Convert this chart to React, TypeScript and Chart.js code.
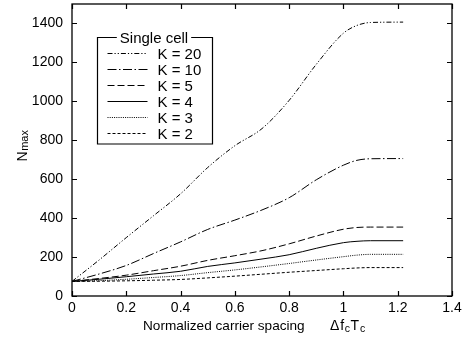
import React, { useEffect, useRef } from "react";
import { Chart, registerables } from "chart.js";

Chart.register(...registerables);

// ---- data ----
const xValues = [0, 0.1, 0.2, 0.3, 0.4, 0.5, 0.6, 0.7, 0.8, 0.9, 1.0, 1.05, 1.1, 1.22];
const k20 = [75, 185, 300, 412, 525, 660, 772, 860, 1005, 1190, 1350, 1390, 1405, 1407];
const k10 = [75, 113, 157, 218, 278, 342, 390, 442, 505, 597, 672, 697, 705, 706];
const k5 = [75, 90, 107, 130, 153, 183, 207, 233, 268, 308, 343, 352, 354, 354];
const k4 = [75, 86, 99, 113, 127, 152, 170, 190, 212, 245, 274, 281, 284, 284];
const k3 = [75, 79, 86, 95, 105, 120, 134, 150, 167, 185, 202, 210, 214, 214];
const k2 = [75, 76, 78, 81, 85, 93, 102, 112, 122, 131, 140, 144, 146, 146];
const seriesLabels = ["K = 20", "K = 10", "K = 5", "K = 4", "K = 3", "K = 2"];
const legendTitle = "Single cell";
const xTitle = "Normalized carrier spacing";
const xMin = 0, xMax = 1.4, xStep = 0.2;
const yMin = 0, yMax = 1500, yStep = 200;

const FONT = "Arial, 'Liberation Sans', sans-serif";

const seriesValues = [k20, k10, k5, k4, k3, k2];
const dashes: number[][] = [
  [5, 2, 1.2, 2, 1.2, 2],
  [9, 2.5, 1.5, 2.5],
  [7, 3],
  [],
  [1, 1.2],
  [3, 2],
];

const decorPlugin = {
  id: "decor",
  afterDatasetsDraw(chart: any) {
    const { ctx, chartArea: a, scales } = chart;
    const xs = scales.x;
    const ys = scales.y;
    ctx.save();
    ctx.strokeStyle = "#000";
    ctx.fillStyle = "#000";
    ctx.setLineDash([]);

    // frame
    ctx.lineWidth = 1.3;
    ctx.strokeRect(a.left, a.top, a.right - a.left, a.bottom - a.top);

    // inward ticks
    ctx.lineWidth = 1.2;
    const tl = 5;
    ctx.beginPath();
    xs.ticks.forEach((t: any) => {
      const px = Math.round(xs.getPixelForValue(t.value)) + 0.5;
      ctx.moveTo(px, a.bottom);
      ctx.lineTo(px, a.bottom - tl);
      ctx.moveTo(px, a.top);
      ctx.lineTo(px, a.top + tl);
    });
    ys.ticks.forEach((t: any) => {
      const py = Math.round(ys.getPixelForValue(t.value)) + 0.5;
      ctx.moveTo(a.left, py);
      ctx.lineTo(a.left + tl, py);
      ctx.moveTo(a.right, py);
      ctx.lineTo(a.right - tl, py);
    });
    ctx.stroke();

    // legend
    const lx = a.left + 25.5;
    const ly = a.top + 33.5;
    const lw = 115;
    const lh = 106.5;
    ctx.font = `15px ${FONT}`;
    const tw = ctx.measureText(legendTitle).width;
    const cx = lx + lw / 2 - 1;
    ctx.lineWidth = 1.2;
    ctx.beginPath();
    ctx.moveTo(cx - tw / 2 - 3, ly);
    ctx.lineTo(lx, ly);
    ctx.lineTo(lx, ly + lh);
    ctx.lineTo(lx + lw, ly + lh);
    ctx.lineTo(lx + lw, ly);
    ctx.lineTo(cx + tw / 2 + 3, ly);
    ctx.stroke();
    ctx.textAlign = "center";
    ctx.textBaseline = "middle";
    ctx.fillText(legendTitle, cx, ly + 1);
    ctx.textAlign = "left";
    chart.data.datasets.forEach((ds: any, i: number) => {
      const ry = Math.round(ly + 15.8 + i * 16) + 0.5;
      ctx.lineWidth = 1;
      ctx.setLineDash(ds.borderDash || []);
      ctx.beginPath();
      ctx.moveTo(lx + 10, ry);
      ctx.lineTo(lx + 50, ry);
      ctx.stroke();
      ctx.setLineDash([]);
      ctx.fillText(ds.label, lx + 60, ry + 1);
    });

    // x title
    ctx.textBaseline = "alphabetic";
    ctx.textAlign = "left";
    const by = 330;
    ctx.font = `13.6px ${FONT}`;
    let px = a.left + 71;
    ctx.fillText(xTitle, px, by);
    px = a.left + 258;
    const parts: [string, boolean][] = [["\u0394", false], ["f", false], ["c", true], ["T", false], ["c", true]];
    parts.forEach(([s, sub]) => {
      ctx.font = sub ? `10.5px ${FONT}` : `14px ${FONT}`;
      ctx.fillText(s, px, sub ? by + 2 : by);
      px += ctx.measureText(s).width + (sub ? 0.5 : 0.8);
    });

    // y title
    ctx.save();
    ctx.translate(27, (a.top + a.bottom) / 2 - 4);
    ctx.rotate(-Math.PI / 2);
    ctx.font = `14px ${FONT}`;
    const nW = ctx.measureText("N").width;
    ctx.font = `11px ${FONT}`;
    const mW = ctx.measureText("max").width;
    const start = -(nW + mW) / 2;
    ctx.font = `14px ${FONT}`;
    ctx.fillText("N", start, 0);
    ctx.font = `11px ${FONT}`;
    ctx.fillText("max", start + nW + 0.5, 0.5);
    ctx.restore();

    ctx.restore();
  },
};

export default function App() {
  const ref = useRef<HTMLCanvasElement | null>(null);
  useEffect(() => {
    if (!ref.current) return;
    const chart = new Chart(ref.current, {
      type: "line",
      data: {
        datasets: seriesValues.map((vals, i) => ({
          label: seriesLabels[i],
          data: xValues.map((x, j) => ({ x, y: vals[j] })),
          borderColor: "#000",
          borderWidth: 1,
          borderDash: dashes[i],
          pointRadius: 0,
          fill: false,
          cubicInterpolationMode: "monotone" as const,
        })),
      },
      options: {
        animation: false,
        responsive: false,
        maintainAspectRatio: false,
        layout: { padding: { left: 0, top: 4, right: 14, bottom: 0 } },
        plugins: { legend: { display: false }, tooltip: { enabled: false } },
        scales: {
          x: {
            type: "linear",
            min: xMin,
            max: xMax,
            grid: { display: false, drawTicks: false },
            border: { display: false },
            ticks: {
              stepSize: xStep,
              padding: 4,
              color: "#000",
              font: { family: FONT, size: 14 },
              maxRotation: 0,
              callback: (v: any) => String(Math.round(Number(v) * 10) / 10),
            },
            afterFit: (s: any) => {
              s.height = 47;
              s.paddingLeft = 0;
              s.paddingRight = 0;
            },
          },
          y: {
            type: "linear",
            min: yMin,
            max: yMax,
            grid: { display: false, drawTicks: false },
            border: { display: false },
            ticks: {
              stepSize: yStep,
              includeBounds: false,
              padding: 9,
              color: "#000",
              font: { family: FONT, size: 14 },
              callback: (v: any) => String(v),
            },
            afterFit: (s: any) => {
              s.width = 72;
              s.paddingTop = 0;
              s.paddingBottom = 0;
            },
          },
        },
      },
      plugins: [decorPlugin],
    } as any);
    return () => chart.destroy();
  }, []);
  return (
    <div style={{ position: "fixed", left: 0, top: 0, width: 466, height: 343, background: "#fff" }}>
      <canvas ref={ref} width={466} height={343} style={{ display: "block" }} />
    </div>
  );
}
